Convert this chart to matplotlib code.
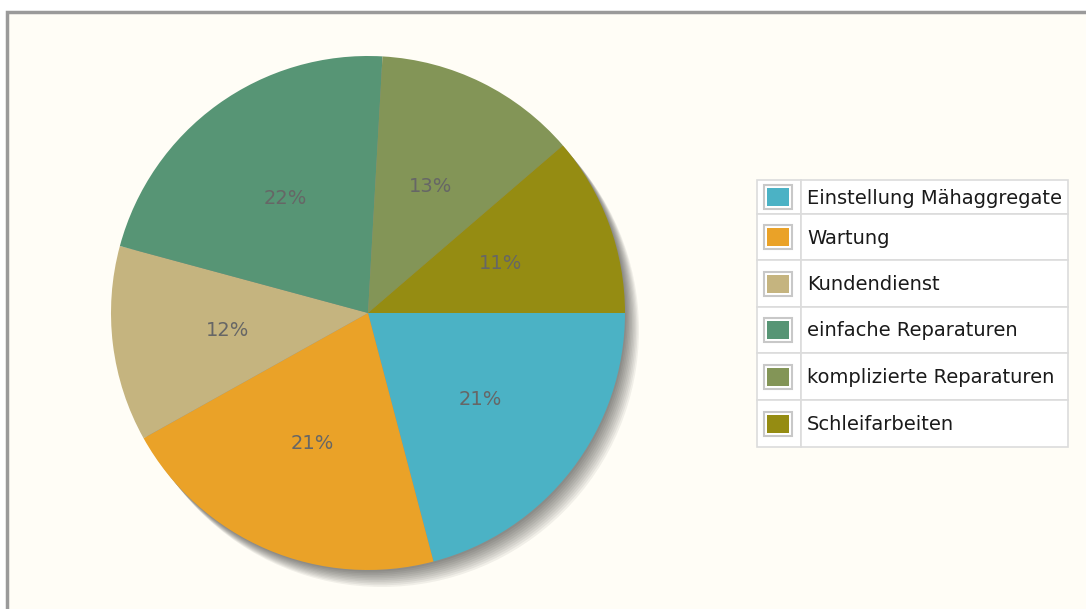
import numpy as np
import matplotlib.pyplot as plt
import matplotlib.patches as mpatches

# Slice data (clockwise from 3 o'clock)
labels = ['Einstellung Mähaggregate', 'Wartung', 'Kundendienst',
          'einfache Reparaturen', 'komplizierte Reparaturen', 'Schleifarbeiten']
values = [20.9, 21.0, 12.3, 21.7, 12.8, 11.3]
colors = ['#4bb2c5', '#eaa228', '#c5b47f', '#579575', '#839557', '#958c12']

W, H = 1086, 609
fig = plt.figure(figsize=(W / 100, H / 100), dpi=100)
fig.patch.set_facecolor('white')
ax = fig.add_axes([0, 0, 1, 1])

# pie geometry in pixels
cx, cy, r = 368, 313, 257

# soft drop shadow towards the lower right
for k in range(1, 11):
    ax.add_patch(mpatches.Circle((cx + k * 1.4, cy + k * 1.7), r,
                                 facecolor='black', edgecolor='none',
                                 alpha=0.055, zorder=1))

wedges, texts, autotexts = ax.pie(
    values, colors=colors, radius=r, center=(cx, cy),
    startangle=0, counterclock=True, autopct='%1.0f%%', pctdistance=0.55,
    wedgeprops=dict(linewidth=0, zorder=2),
    textprops=dict(color='#666666', fontsize=14))
for w in wedges:
    w.set_zorder(2)
for t in autotexts:
    t.set_zorder(3)

# background panel with grey frame
ax.add_patch(mpatches.Rectangle((7, 12), W, H, facecolor='#fffdf6',
                                edgecolor='#9a9a9a', linewidth=2.5, zorder=0))

# table-style legend
lx0, lx1, lx2 = 757, 801, 1068
row_tops = [180, 214, 260, 307, 353, 400, 447]
grid = '#dcdcdc'
for i, (lab, col) in enumerate(zip(labels, colors)):
    y0, y1 = row_tops[i], row_tops[i + 1]
    ym = (y0 + y1) / 2
    ax.add_patch(mpatches.Rectangle((lx0, y0), lx1 - lx0, y1 - y0, facecolor='white',
                                    edgecolor=grid, linewidth=1.2, zorder=4))
    ax.add_patch(mpatches.Rectangle((lx1, y0), lx2 - lx1, y1 - y0, facecolor='white',
                                    edgecolor=grid, linewidth=1.2, zorder=4))
    ax.add_patch(mpatches.Rectangle((lx0 + 7, ym - 12), 28, 24, facecolor='white',
                                    edgecolor='#c8c8c8', linewidth=1.5, zorder=5))
    ax.add_patch(mpatches.Rectangle((lx0 + 10, ym - 9), 22, 18, facecolor=col,
                                    edgecolor='none', zorder=6))
    ax.text(lx1 + 6, ym + 1, lab, fontsize=14, color='#1a1a1a', va='center', ha='left', zorder=7)

ax.set_xlim(0, W)
ax.set_ylim(H, 0)
ax.set_aspect('auto')
ax.axis('off')

fig.savefig('out.png', dpi=100, facecolor=fig.get_facecolor())
